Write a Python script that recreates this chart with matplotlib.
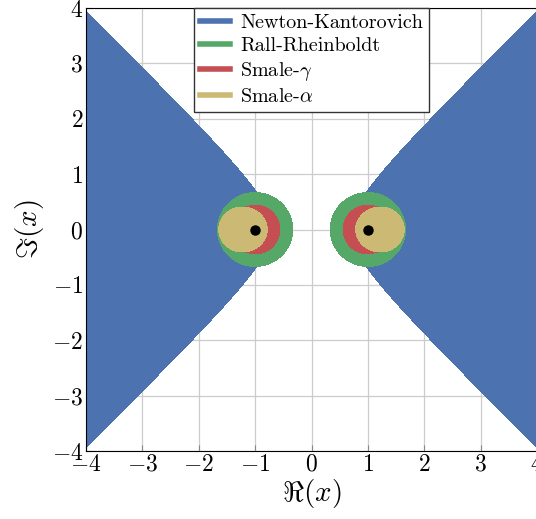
import numpy as np
import matplotlib.pyplot as plt
from matplotlib.lines import Line2D

plt.rcParams['font.family'] = 'serif'
plt.rcParams['font.serif'] = ['cmr10', 'DejaVu Serif']
plt.rcParams['mathtext.fontset'] = 'cm'
plt.rcParams['axes.unicode_minus'] = False

# f(x) = x^2 - 1, roots at -1 and +1
roots = [-1.0, 1.0]
lipschitz = 2.0                       # Lipschitz constant of f'
alpha0 = (13 - 3 * np.sqrt(17)) / 4   # Smale alpha constant
u_gamma = (5 - np.sqrt(17)) / 4       # Smale gamma constant
labels = ['Newton-Kantorovich', 'Rall-Rheinboldt', r'Smale-$\gamma$', r'Smale-$\alpha$']
colors = ['#4C72B0', '#55A868', '#C44E52', '#CCB974']
ticks = [-4, -3, -2, -1, 0, 1, 2, 3, 4]

xs = np.linspace(-4, 4, 1601)
X, Y = np.meshgrid(xs, xs)
Z = X + 1j * Y
with np.errstate(divide='ignore', invalid='ignore'):
    fz = Z**2 - 1
    dfz = 2 * Z
    eta = np.abs(fz / dfz)
    beta = 1 / np.abs(dfz)
    gam = 1 / np.abs(dfz)        # |f''/(2 f')|
    nk = beta * eta * lipschitz - 0.5
    sa = eta * gam - alpha0
nk = np.nan_to_num(nk, nan=1e9, posinf=1e9)
sa = np.nan_to_num(sa, nan=1e9, posinf=1e9)

fig = plt.figure(figsize=(5.36, 5.19), dpi=100)
ax = fig.add_axes([86 / 536, 68 / 519, 451 / 536, 443 / 519])
ax.set_axisbelow(True)
ax.grid(True, color='#cccccc', linewidth=0.9)

ax.contourf(X, Y, nk, levels=[-1e10, 0], colors=[colors[0]])
for r in roots:
    gamma_r = 1 / (2 * abs(r))
    rr = 2 / (3 * lipschitz * (1 / abs(2 * r)))
    ax.contourf(X, Y, np.abs(Z - r) - rr, levels=[-1e10, 0], colors=[colors[1]])
    ax.contourf(X, Y, np.abs(Z - r) - u_gamma / gamma_r, levels=[-1e10, 0], colors=[colors[2]])
ax.contourf(X, Y, sa, levels=[-1e10, 0], colors=[colors[3]])
ax.plot(roots, [0, 0], 'o', color='black', markersize=6.5, zorder=5)

ax.set_xlim(-4, 4)
ax.set_ylim(-4, 4)
ax.set_xticks(ticks)
ax.set_yticks(ticks)
ax.set_xticklabels(['$%d$' % t for t in ticks], fontsize=17)
ax.set_yticklabels(['$%d$' % t for t in ticks], fontsize=17)
ax.tick_params(direction='in', length=4, color='#888888', pad=2)
ax.set_xlabel(r'$\Re(x)$', fontsize=21, labelpad=1)
ax.set_ylabel(r'$\Im(x)$', fontsize=21, labelpad=4)

handles = [Line2D([], [], color=c, lw=4) for c in colors]
leg = ax.legend(handles, labels, loc='upper center', bbox_to_anchor=(0.5, 1.0),
                borderaxespad=0, fontsize=14.5, handlelength=1.5, fancybox=False,
                framealpha=1, edgecolor='#333333', labelspacing=0.25,
                borderpad=0.3, handletextpad=0.5)
leg.get_frame().set_linewidth(1.0)

fig.savefig('out.png', dpi=100)
